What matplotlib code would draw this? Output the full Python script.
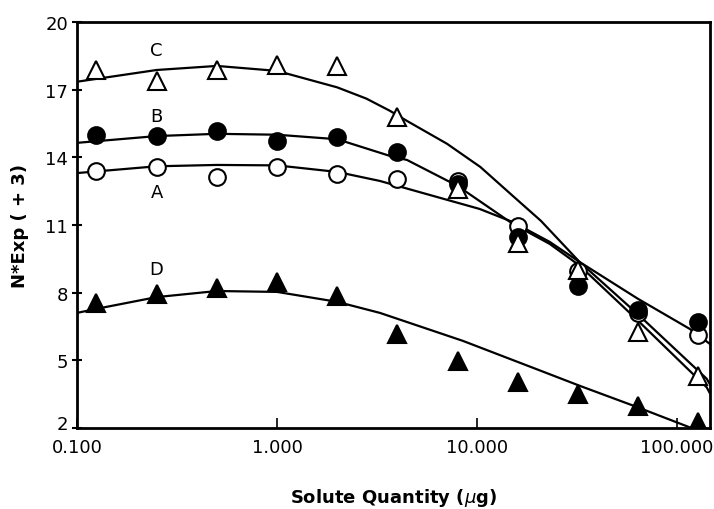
import matplotlib
matplotlib.use('Agg')
import matplotlib.pyplot as plt
from matplotlib.transforms import ScaledTranslation
import numpy as np

# --- measured points (solute quantity in ug) ---
quantity = [0.125, 0.25, 0.5, 1, 2, 4, 8, 16, 32, 64, 128]
series_a = [13.40, 13.57, 13.13, 13.57, 13.26, 13.04, 12.95, 10.96, 8.96, 7.10, 6.13]   # open circles
series_b = [14.99, 14.94, 15.17, 14.73, 14.90, 14.24, 12.80, 10.47, 8.30, 7.23, 6.70]   # filled circles
series_c = [17.87, 17.40, 17.87, 18.10, 18.05, 15.80, 12.60, 10.20, 8.98, 6.26, 4.31]   # open triangles
series_d = [7.54, 7.94, 8.20, 8.47, 7.85, 6.17, 4.97, 4.04, 3.50, 2.98, 2.27]          # filled triangles

# --- fitted curves ---
fit_a_x = [0.1, 0.25, 0.5, 1, 2, 3.27, 5.8, 10.3, 15.1, 23.1, 32.6, 64, 116, 146]
fit_a_y = [13.30, 13.60, 13.66, 13.64, 13.35, 12.95, 12.33, 11.71, 11.13, 10.25, 9.36, 7.72, 6.39, 5.73]
fit_b_x = [0.1, 0.25, 0.5, 1, 2, 3.67, 4.47, 8, 15.1, 23.1, 32.6, 64, 141, 146]
fit_b_y = [14.64, 14.94, 15.04, 15.00, 14.80, 14.06, 13.88, 12.73, 11.05, 10.16, 9.20, 6.75, 3.80, 3.55]
fit_c_x = [0.1, 0.25, 0.5, 1, 2, 2.8, 3.67, 4.47, 7.08, 10.4, 15.1, 20.9, 32.6, 64, 141, 146]
fit_c_y = [17.35, 17.87, 18.05, 17.83, 17.10, 16.60, 16.06, 15.61, 14.60, 13.57, 12.29, 11.18, 9.36, 7.03, 4.18, 3.95]
fit_d_x = [0.1, 0.125, 0.25, 0.5, 1, 2, 3.27, 8.5, 20.9, 32.6, 63, 111, 130]
fit_d_y = [7.10, 7.28, 7.80, 8.07, 8.03, 7.59, 7.10, 5.86, 4.53, 3.87, 2.93, 2.09, 1.85]

curve_labels = ['A', 'B', 'C', 'D']
label_x = [0.25, 0.25, 0.25, 0.25]
label_y = [12.45, 15.85, 18.75, 9.05]

y_ticks = [2, 5, 8, 11, 14, 17, 20]
x_ticks = [0.1, 1, 10, 100]
x_tick_labels = ['0.100', '1.000', '10.000', '100.000']

plt.rcParams['font.family'] = ['DejaVu Sans']

fig = plt.figure(figsize=(7.14, 5.10), dpi=100)
ax = fig.add_axes([0.108, 0.159, 0.886, 0.796])

lw = 1.6
for fx, fy in [(fit_a_x, fit_a_y), (fit_b_x, fit_b_y), (fit_c_x, fit_c_y), (fit_d_x, fit_d_y)]:
    ax.plot(fx, fy, color='black', lw=lw, zorder=2)

ax.plot(quantity, series_a, 'o', ms=12, mfc='white', mec='black', mew=1.5, zorder=3)
ax.plot(quantity, series_b, 'o', ms=12, mfc='black', mec='black', mew=1.5, zorder=3)
ax.plot(quantity, series_c, '^', ms=13, mfc='white', mec='black', mew=1.5, zorder=3)
ax.plot(quantity, series_d, '^', ms=13, mfc='black', mec='black', mew=1.5, zorder=3)

for lab, lx, ly in zip(curve_labels, label_x, label_y):
    ax.text(lx, ly, lab, ha='center', va='center', fontsize=13)

ax.set_xscale('log')
ax.set_xlim(0.1, 146)
ax.set_ylim(2, 20)
ax.set_xticks(x_ticks)
ax.set_xticklabels(x_tick_labels)
ax.xaxis.set_minor_locator(matplotlib.ticker.NullLocator())
ax.set_yticks(y_ticks)
ax.tick_params(axis='x', direction='in', length=7, width=1.2, labelsize=13, pad=7)
ax.tick_params(axis='y', direction='inout', length=7, width=1.5, labelsize=13, pad=3)

# the bottom "2" sits a little higher, as in the original
lbl = ax.get_yticklabels()[0]
lbl.set_transform(lbl.get_transform() + ScaledTranslation(0, 4 / 72, fig.dpi_scale_trans))

for sp in ax.spines.values():
    sp.set_linewidth(2)

ax.set_xlabel(r'Solute Quantity ($\mu$g)', fontsize=13, fontweight='bold', labelpad=22)
ax.set_ylabel('N*Exp ( + 3)', fontsize=13, fontweight='bold', labelpad=12)

fig.savefig('out.png', dpi=100)
